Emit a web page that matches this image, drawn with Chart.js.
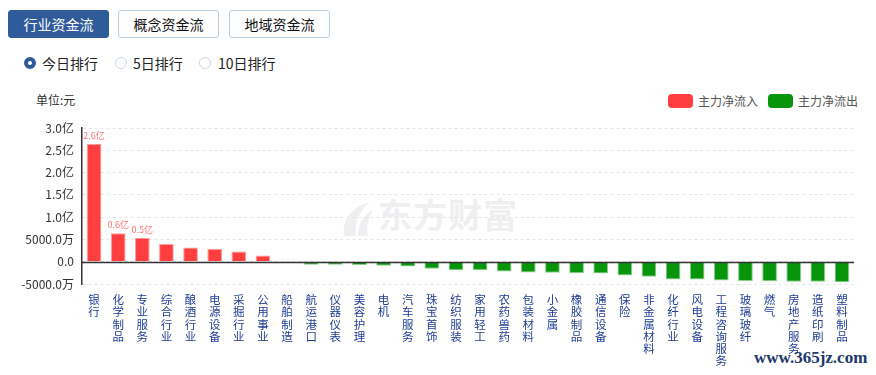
<!DOCTYPE html>
<html>
<head>
<meta charset="utf-8">
<script src="https://cdn.jsdelivr.net/npm/chart.js@4.4.1/dist/chart.umd.min.js"></script>
<style>
  body { margin: 0; background: #fff; font-family: "Noto Sans CJK SC", "Noto Sans", sans-serif; }
  #wrap { position: relative; width: 876px; height: 375px; overflow: hidden; }
  .btn { position: absolute; top: 10px; height: 26px; width: 99px; border: 1px solid #b9d0e8; border-radius: 3px;
         font-size: 14px; line-height: 26px; text-align: center; color: #111; background: #fff; }
  .btn.on { background: #2f5b9b; border-color: #2f5b9b; color: #fff; }
  .radio { position: absolute; top: 57px; width: 10px; height: 10px; border-radius: 50%; border: 1px solid #c9d6e3; background: #fff; }
  .radio.on { width: 4px; height: 4px; border: 4px solid #2f5b9b; }
  .rtxt { position: absolute; top: 53px; font-size: 14px; line-height: 20px; color: #222; }
  .unit { position: absolute; left: 36px; top: 92px; font-size: 12px; line-height: 16px; color: #333; }
  .lg { position: absolute; top: 94px; width: 25px; height: 14px; border-radius: 4px; }
  .lt { position: absolute; top: 93px; font-size: 12px; line-height: 16px; color: #555; }
  #mark { position: absolute; left: 340px; top: 192px; color: #efeff2; font-size: 34px; font-weight: 700; line-height: 44px; letter-spacing: 1px; }
  #mark svg { vertical-align: middle; margin-right: 4px; }
  #site { position: absolute; left: 754px; top: 348px; font-family: "Liberation Serif", serif; font-weight: 700; font-size: 17px; color: #1d3a6e; }
  canvas { position: absolute; left: 0; top: 0; }
</style>
</head>
<body>
<div id="wrap">
  <div class="btn on" style="left:8px">行业资金流</div>
  <div class="btn" style="left:118px">概念资金流</div>
  <div class="btn" style="left:229px">地域资金流</div>

  <div class="radio on" style="left:24px"></div><div class="rtxt" style="left:42px">今日排行</div>
  <div class="radio" style="left:115px"></div><div class="rtxt" style="left:133px">5日排行</div>
  <div class="radio" style="left:199px"></div><div class="rtxt" style="left:218px">10日排行</div>

  <div class="unit">单位:元</div>
  <div class="lg" style="left:668px;background:#ff3f3f"></div><div class="lt" style="left:698px">主力净流入</div>
  <div class="lg" style="left:768px;background:#07950c"></div><div class="lt" style="left:798px">主力净流出</div>

  <div id="mark"><svg width="34" height="38" viewBox="0 0 34 38"><path d="M4 36 C2 20 12 6 30 2 C20 10 14 22 16 36 Z" fill="#efeff2"/><path d="M18 36 C18 24 24 14 33 10 C28 18 26 28 28 36 Z" fill="#efeff2"/></svg>东方财富</div>
  <div id="site">www.365jz.com</div>

  <canvas id="myChart" width="876" height="375"></canvas>
</div>
<script>
const industries = ['银行', '化学制品', '专业服务', '综合行业', '酿酒行业', '电源设备', '采掘行业', '公用事业',
  '船舶制造', '航运港口', '仪器仪表', '美容护理', '电机', '汽车服务', '珠宝首饰', '纺织服装', '家用轻工',
  '农药兽药', '包装材料', '小金属', '橡胶制品', '通信设备', '保险', '非金属材料', '化纤行业', '风电设备',
  '工程咨询服务', '玻璃玻纤', '燃气', '房地产服务', '造纸印刷', '塑料制品'];

// 主力净流入 (元)
const netFlow = [2.64e8, 0.64e8, 0.54e8, 0.40e8, 0.32e8, 0.29e8, 0.23e8, 0.14e8,
  -0.02e8, -0.067e8, -0.07e8, -0.075e8, -0.09e8, -0.11e8, -0.16e8, -0.19e8, -0.19e8,
  -0.22e8, -0.24e8, -0.25e8, -0.26e8, -0.265e8, -0.31e8, -0.34e8, -0.40e8, -0.40e8,
  -0.42e8, -0.43e8, -0.44e8, -0.45e8, -0.45e8, -0.46e8];

const yTicks = { min: -0.5e8, max: 3e8, step: 0.5e8 };
const labelledBars = 3;

function fmt(v) {
  const a = Math.abs(v);
  if (a >= 1e8) return (v / 1e8).toFixed(1) + '亿';
  if (a >= 1e4) return (v / 1e4).toFixed(1) + '万';
  return v.toFixed(1);
}

const inflow = netFlow.map(v => v >= 0 ? v : null);
const outflow = netFlow.map(v => v < 0 ? v : null);

const extras = {
  id: 'extras',
  afterDatasetsDraw(chart) {
    const { ctx, chartArea } = chart;
    const y = chart.scales.y;
    ctx.save();
    const y0 = Math.round(y.getPixelForValue(0)) + 0.5;
    ctx.strokeStyle = '#333';
    ctx.lineWidth = 1.5;
    ctx.beginPath();
    ctx.moveTo(chartArea.left, y0);
    ctx.lineTo(chartArea.right, y0);
    ctx.stroke();

    // value tags over the biggest inflows, always in 亿
    const meta = chart.getDatasetMeta(0);
    ctx.font = '9px "Noto Sans CJK SC"';
    ctx.fillStyle = '#ff7373';
    ctx.textAlign = 'center';
    ctx.textBaseline = 'bottom';
    for (let i = 0; i < labelledBars; i++) {
      const bar = meta.data[i];
      ctx.fillText((netFlow[i] / 1e8).toFixed(1) + '亿', bar.x, bar.y - 4);
    }
    ctx.restore();
  }
};

new Chart(document.getElementById('myChart'), {
  type: 'bar',
  data: {
    labels: industries.map(s => s.split('')),
    datasets: [
      {
        label: '主力净流入',
        data: inflow,
        backgroundColor: '#ff3f3f',
        borderColor: '#ff9c9c',
        borderWidth: 1,
      },
      {
        label: '主力净流出',
        data: outflow,
        backgroundColor: '#07950c',
        borderColor: '#86d186',
        borderWidth: 1,
      }
    ]
  },
  options: {
    responsive: false,
    animation: false,
    layout: { padding: { top: 128, right: 22, left: 0, bottom: 0 } },
    datasets: { bar: { barPercentage: 0.61, categoryPercentage: 1 } },
    scales: {
      x: {
        stacked: true,
        grid: { display: false },
        border: { display: false },
        ticks: {
          maxRotation: 0,
          autoSkip: false,
          padding: 2,
          color: '#1f3d96',
          font: { size: 11.5, family: '"Noto Sans CJK SC"', lineHeight: 1.05 }
        },
        afterFit(scale) { scale.height = 91; }
      },
      y: {
        stacked: true,
        min: yTicks.min,
        max: yTicks.max,
        grid: { color: '#e4e4e4', drawTicks: false },
        border: { display: true, color: '#333', width: 1.5, dash: [3, 3] },
        ticks: {
          stepSize: yTicks.step,
          padding: 8,
          color: '#333',
          font: { size: 12, family: '"Noto Sans CJK SC"' },
          callback: v => fmt(v)
        },
        afterFit(scale) { scale.width = 82; }
      }
    },
    plugins: {
      legend: { display: false },
      tooltip: { enabled: false }
    }
  },
  plugins: [extras]
});
</script>
</body>
</html>
